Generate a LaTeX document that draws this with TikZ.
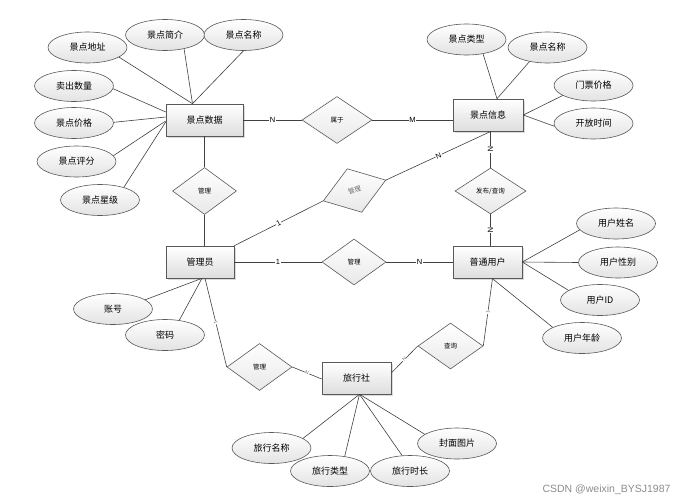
\documentclass[tikz,border=0pt]{standalone}
\usepackage{fontspec}
\setmainfont{Noto Sans CJK SC}
\setsansfont{Liberation Sans}
\usetikzlibrary{shapes.geometric,calc,shadows}
\tikzset{
  base/.style={draw=black!65, line width=0.6pt, top color=white, bottom color=black!13, inner sep=0pt},
  entity/.style={base, rectangle, minimum height=32pt,
    font=\fontsize{9}{10}\selectfont,
    drop shadow={shadow xshift=1.5pt, shadow yshift=-1.5pt, opacity=0.35, fill=black!40}},
  attr/.style={base, ellipse, bottom color=black!11, minimum width=79pt, minimum height=31pt,
    font=\fontsize{9}{10}\selectfont},
  rel/.style={base, diamond, bottom color=black!9, minimum height=47pt,
    font=\fontsize{6.5}{7}\selectfont},
  conn/.style={draw=black!75, line width=0.6pt},
  lbl/.style={fill=white, inner sep=0.6pt, font=\sffamily\fontsize{7.5}{8}\selectfont},
  slbl/.style={fill=white, inner sep=0.4pt, text=black!55, sloped, font=\sffamily\fontsize{5}{6}\selectfont},
}
\begin{document}
\begin{tikzpicture}[x=1pt,y=-1pt]
\useasboundingbox (0,0) rectangle (700,503);

% entities
\node[entity, minimum width=77pt] (sjsj) at (204.5,120) {景点数据};
\node[entity, minimum width=70pt] (jdxx) at (488,115) {景点信息};
\node[entity, minimum width=68pt] (gly) at (200,262) {管理员};
\node[entity, minimum width=69pt] (ptyh) at (487.5,262) {普通用户};
\node[entity, minimum width=69pt] (lxs) at (356.5,378) {旅行社};

% relationships
\node[rel, minimum width=70pt] (sy) at (337,120) {属于};
\node[rel, minimum width=64pt] (gla) at (204.5,191) {管理};
\node[rel, minimum width=66pt, minimum height=46pt, rotate=18.4] (glb) at (354.5,190.5) {\color{black!60}管理};
\node[rel, minimum width=71pt, minimum height=46pt] (fbcx) at (490.5,191) {发布/查询};
\node[rel, minimum width=64pt, minimum height=46pt] (glc) at (354,262) {管理};
\node[rel, minimum width=65pt] (gld) at (259.5,367) {管理};
\node[rel, minimum width=65pt, minimum height=46pt] (cx) at (450.5,346) {查询};

% attributes
\node[attr] (a1) at (87.5,47.5) {景点地址};
\node[attr] (a2) at (165,35) {景点简介};
\node[attr] (a3) at (243.5,35) {景点名称};
\node[attr] (a4) at (74,86) {卖出数量};
\node[attr] (a5) at (74,123) {景点价格};
\node[attr] (a6) at (76.5,161.5) {景点评分};
\node[attr] (a7) at (100,200) {景点星级};
\node[attr] (b1) at (466.5,39.5) {景点类型};
\node[attr] (b2) at (547.5,47.5) {景点名称};
\node[attr] (b3) at (593.5,85.5) {门票价格};
\node[attr] (b4) at (593.5,123.5) {开放时间};
\node[attr] (c1) at (616,223.5) {用户姓名};
\node[attr] (c2) at (618,262.5) {用户性别};
\node[attr] (c3) at (600,300) {用户ID};
\node[attr] (c4) at (582,338) {用户年龄};
\node[attr] (d1) at (113,309) {账号};
\node[attr] (d2) at (165,335) {密码};
\node[attr] (e1) at (271.5,448) {旅行名称};
\node[attr] (e2) at (330,471) {旅行类型};
\node[attr] (e3) at (410,471) {旅行时长};
\node[attr] (e4) at (457,443.5) {封面图片};

% attribute connectors
\coordinate (sjT) at ($(sjsj.north)+(-12,0)$);
\draw[conn] (a1.-17) -- (sjT);
\draw[conn] (a2.-36) -- (sjT);
\draw[conn] (a3.-90) -- (sjT);
\draw[conn] (a4.-4) -- ($(sjsj.west)+(0,-8)$);
\draw[conn] (a5.1) -- ($(sjsj.west)+(0,-3)$);
\draw[conn] (a6.9) -- ($(sjsj.west)+(0,1)$);
\draw[conn] (a7.28) -- ($(sjsj.west)+(0,2)$);
\coordinate (jdT) at ($(jdxx.north)+(9,0)$);
\draw[conn] (b1.-41) -- (jdT);
\draw[conn] (b2.-142) -- (jdT);
\draw[conn] (b3.-162) -- (jdxx.east);
\draw[conn] (b4.-176) -- (jdxx.east);
\draw[conn] (c1.-170) -- (ptyh.east);
\draw[conn] (c2.180) -- (ptyh.east);
\draw[conn] (c3.163) -- (ptyh.east);
\draw[conn] (c4.160) -- ($(ptyh.south)+(4.5,0)$);
\coordinate (glB) at ($(gly.south)+(2,0)$);
\draw[conn] (d1.16) -- (glB);
\draw[conn] (d2.46) -- (glB);
\coordinate (lxB) at ($(lxs.south)+(3,0)$);
\draw[conn] (e1.17) -- (lxB);
\draw[conn] (e2.45) -- (lxB);
\draw[conn] (e3.117) -- (lxB);
\draw[conn] (e4.164) -- (lxB);

% relationship connectors
\draw[conn] (sjsj.east) -- node[lbl]{N} (sy.west);
\draw[conn] (sy.east) -- node[lbl]{M} ($(jdxx.west)+(0,5)$);
\draw[conn] (sjsj.south) -- (gla.north);
\draw[conn] (gla.south) -- (gla.south |- gly.north);
\draw[conn] (gly.east) -- node[lbl]{1} (glc.west);
\draw[conn] (glc.east) -- node[lbl]{N} (ptyh.west);
\draw[conn] (gly.north east) -- node[lbl, sloped]{1} (glb.west);
\draw[conn] (glb.east) -- node[lbl, sloped]{N} ($(jdxx.south)+(3,0)$);
\draw[conn] (fbcx.north |- jdxx.south) -- node[lbl, sloped]{N} (fbcx.north);
\draw[conn] (fbcx.south) -- node[lbl, sloped]{N} (fbcx.south |- ptyh.north);
\draw[conn] ($(gly.south)+(5,0)$) -- node[slbl]{1} (gld.west);
\draw[conn] (gld.east) -- node[slbl]{N} ($(lxs.west)+(0,1)$);
\draw[conn] ($(lxs.east)+(0,-5)$) -- node[slbl]{N} (cx.west);
\draw[conn] (cx.east) -- node[slbl]{1} ($(ptyh.south)+(5,0)$);

% watermark
\node[text=black!45, font=\sffamily\fontsize{10.5}{12}\selectfont] (wm) at (606.5,490) {CSDN @weixin\_BYSJ1987};
\end{tikzpicture}
\end{document}
